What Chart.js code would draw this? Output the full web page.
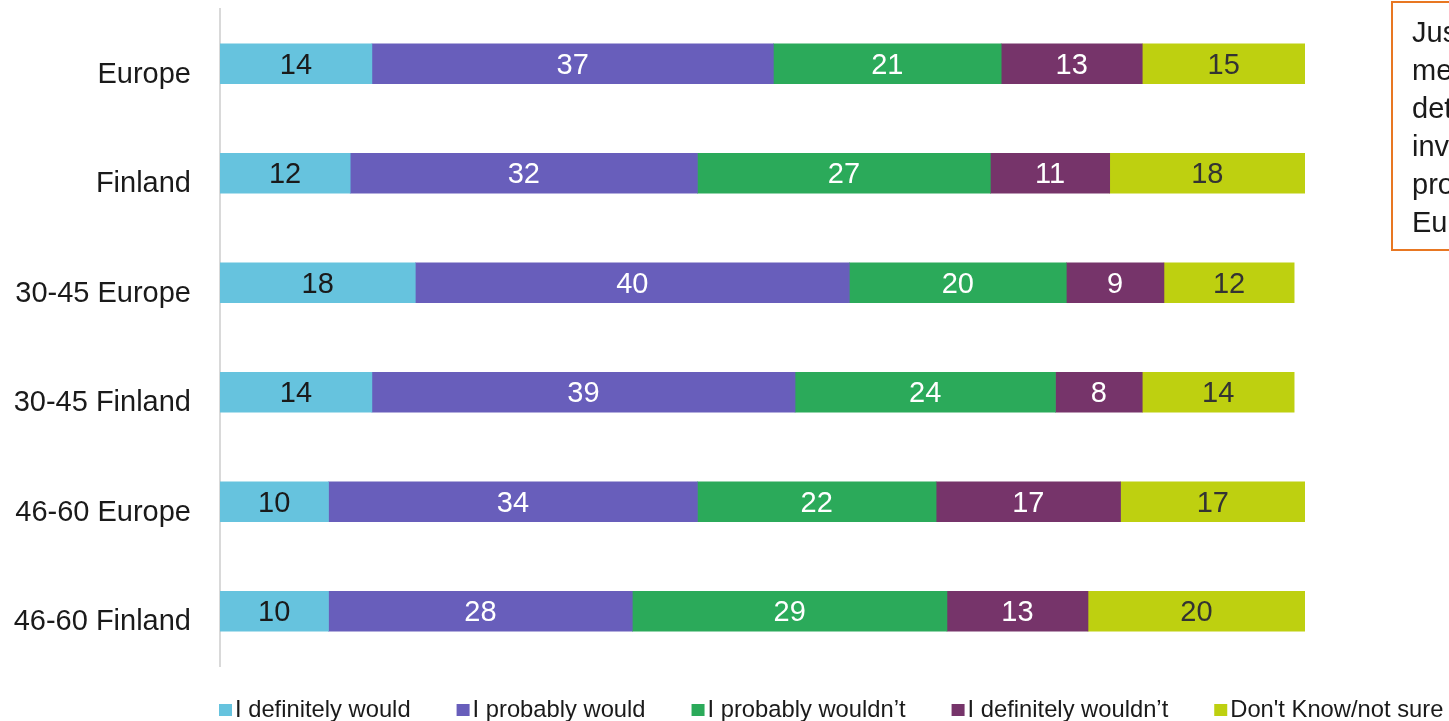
<!DOCTYPE html>
<html>
<head>
<meta charset="utf-8">
<script src="https://cdn.jsdelivr.net/npm/chart.js@4.4.1/dist/chart.umd.min.js"></script>
<style>
  html, body { margin: 0; padding: 0; background: #fff; overflow: hidden; }
  #wrap { position: relative; width: 1449px; height: 721px; }
  #note {
    position: absolute; left: 1391px; top: 1px; width: 300px; height: 236px;
    border: 2px solid #e87722; padding: 10px 0 0 19px; box-sizing: content-box;
    font-family: "Liberation Sans", Arial, sans-serif; font-size: 29px; line-height: 38px;
    color: #1a1a1a; white-space: nowrap;
  }
</style>
</head>
<body>
<div id="wrap">
  <canvas id="chart" width="1449" height="721"></canvas>
  <div id="note">Just under half<br>mentioned they were<br>determined to<br>invest in such<br>products across<br>Europe</div>
</div>
<script>
const categories = ['Europe', 'Finland', '30-45 Europe', '30-45 Finland', '46-60 Europe', '46-60 Finland'];
const seriesNames = ['I definitely would', 'I probably would', 'I probably wouldn\u2019t', 'I definitely wouldn\u2019t', "Don't Know/not sure"];
const definitelyWould = [14, 12, 18, 14, 10, 10];
const probablyWould = [37, 32, 40, 39, 34, 28];
const probablyWouldnt = [21, 27, 20, 24, 22, 29];
const definitelyWouldnt = [13, 11, 9, 8, 17, 13];
const dontKnow = [15, 18, 12, 14, 17, 20];

const colors = ['#66c3de', '#685ebb', '#2baa5a', '#76346a', '#bed010'];
const labelColors = ['#1a1a1a', '#ffffff', '#ffffff', '#ffffff', '#333333'];
const FONT = '"Liberation Sans", Arial, sans-serif';

const seriesValues = [definitelyWould, probablyWould, probablyWouldnt, definitelyWouldnt, dontKnow];

// numbers inside the segments
const valueLabels = {
  id: 'valueLabels',
  afterDatasetsDraw(chart) {
    const ctx = chart.ctx;
    ctx.save();
    ctx.font = '29px ' + FONT;
    ctx.textAlign = 'center';
    ctx.textBaseline = 'middle';
    chart.data.datasets.forEach((ds, i) => {
      chart.getDatasetMeta(i).data.forEach((bar, j) => {
        ctx.fillStyle = labelColors[i];
        ctx.fillText(String(ds.data[j]), (bar.x + bar.base) / 2, bar.y + 2);
      });
    });
    ctx.restore();
  }
};

// legend along the bottom, starting at the plot's left edge
const bottomLegend = {
  id: 'bottomLegend',
  afterDraw(chart) {
    const ctx = chart.ctx;
    ctx.save();
    ctx.font = '23.75px ' + FONT;
    ctx.textBaseline = 'middle';
    let x = chart.chartArea.left - 1;
    const y = 710;
    chart.data.datasets.forEach(ds => {
      ctx.fillStyle = ds.backgroundColor;
      ctx.fillRect(x, y - 6, 13, 12);
      ctx.fillStyle = '#1a1a1a';
      ctx.fillText(ds.label, x + 16, y);
      x += 16 + ctx.measureText(ds.label).width + 46;
    });
    ctx.restore();
  }
};

new Chart(document.getElementById('chart'), {
  type: 'bar',
  data: {
    labels: categories,
    datasets: seriesNames.map((name, i) => ({
      label: name,
      data: seriesValues[i],
      backgroundColor: colors[i],
      borderWidth: 0,
      barThickness: 40
    }))
  },
  options: {
    indexAxis: 'y',
    responsive: false,
    animation: false,
    layout: { padding: { left: 0, right: 144, top: 9, bottom: 55 } },
    plugins: { legend: { display: false }, tooltip: { enabled: false } },
    scales: {
      x: { stacked: true, min: 0, max: 100, display: false },
      y: {
        stacked: true,
        afterFit(scale) {
          scale.width = 220;
          scale.paddingTop = 0;
          scale.paddingBottom = 0;
        },
        grid: { display: false, drawTicks: false },
        border: { display: true, color: '#d9d9d9', width: 2 },
        ticks: {
          color: '#1a1a1a',
          padding: 29,
          labelOffset: 11,
          font: { family: FONT, size: 29 }
        }
      }
    }
  },
  plugins: [valueLabels, bottomLegend]
});
</script>
</body>
</html>
